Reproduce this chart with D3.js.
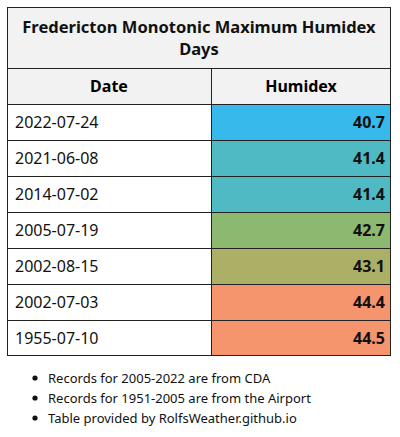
<!DOCTYPE html>
<html><head><meta charset="utf-8">
<script src="https://cdn.jsdelivr.net/npm/d3@7"></script>
<style>body{margin:0;background:#fff;font-family:"Noto Sans",sans-serif;}</style>
</head><body>
<svg id="chart" width="400" height="437"></svg>
<script>
const title = ["Fredericton Monotonic Maximum Humidex", "Days"];
const headers = ["Date", "Humidex"];
const dates = ["2022-07-24", "2021-06-08", "2014-07-02", "2005-07-19", "2002-08-15", "2002-07-03", "1955-07-10"];
const humidex = [40.7, 41.4, 41.4, 42.7, 43.1, 44.4, 44.5];
const cellColors = ["#38b9eb", "#4fbac4", "#4fbac4", "#8cb870", "#abb066", "#f4956d", "#f4956d"];
const notes = ["Records for 2005-2022 are from CDA", "Records for 1951-2005 are from the Airport", "Table provided by RolfsWeather.github.io"];

const svg = d3.select("#chart");
const x0 = 7, x1 = 391, xs = 211;
const titleTop = 7, headTop = 68, rowTop = 104, rowH = 36;

const y = d3.scaleBand().domain(d3.range(dates.length))
  .range([rowTop, rowTop + rowH * dates.length]);

// title + header
svg.append("rect").attr("x", x0).attr("y", titleTop).attr("width", x1 - x0)
  .attr("height", rowTop - titleTop).attr("fill", "#f2f2f2");
svg.append("text").attr("x", (x0 + x1) / 2).attr("text-anchor", "middle")
  .attr("font-size", 16.5).attr("font-weight", "bold").attr("fill", "#111")
  .selectAll("tspan").data(title).join("tspan")
  .attr("x", (x0 + x1) / 2).attr("y", (d, i) => 33 + i * 22).text(d => d);
svg.append("text").attr("x", (x0 + xs) / 2).attr("y", 92).attr("text-anchor", "middle")
  .attr("font-size", 16).attr("font-weight", "bold").text(headers[0]);
svg.append("text").attr("x", (xs + x1) / 2).attr("y", 92).attr("text-anchor", "middle")
  .attr("font-size", 16).attr("font-weight", "bold").text(headers[1]);

// rows
const rows = svg.append("g").selectAll("g").data(dates).join("g")
  .attr("transform", (d, i) => `translate(0,${y(i)})`);
rows.append("rect").attr("x", xs).attr("width", x1 - xs).attr("height", y.bandwidth())
  .attr("fill", (d, i) => cellColors[i]);
rows.append("text").attr("x", x0 + 8).attr("y", 24).attr("font-size", 16)
  .attr("fill", "#111").text(d => d);
rows.append("text").attr("x", x1 - 6).attr("y", 24).attr("font-size", 16)
  .attr("text-anchor", "end").attr("font-weight", "bold").attr("fill", "#111")
  .text((d, i) => humidex[i].toFixed(1));

// grid lines
const g = svg.append("g").attr("stroke", "#222").attr("stroke-width", 1).attr("fill", "none");
const bottom = y.range()[1];
g.append("rect").attr("x", x0 + 0.5).attr("y", titleTop + 0.5)
  .attr("width", x1 - x0 - 1).attr("height", bottom - titleTop - 1);
[headTop, ...d3.range(dates.length).map(i => y(i))].forEach(v =>
  g.append("line").attr("x1", x0).attr("x2", x1).attr("y1", v + 0.5).attr("y2", v + 0.5));
g.append("line").attr("x1", xs + 0.5).attr("x2", xs + 0.5).attr("y1", headTop).attr("y2", bottom);

// notes
const n = svg.append("g").selectAll("g").data(notes).join("g")
  .attr("transform", (d, i) => `translate(0,${378 + i * 20})`);
n.append("circle").attr("cx", 35).attr("cy", 0).attr("r", 2.6).attr("fill", "#111");
n.append("text").attr("x", 48).attr("y", 4.5).attr("font-size", 13).attr("fill", "#111").text(d => d);
</script>
</body></html>
